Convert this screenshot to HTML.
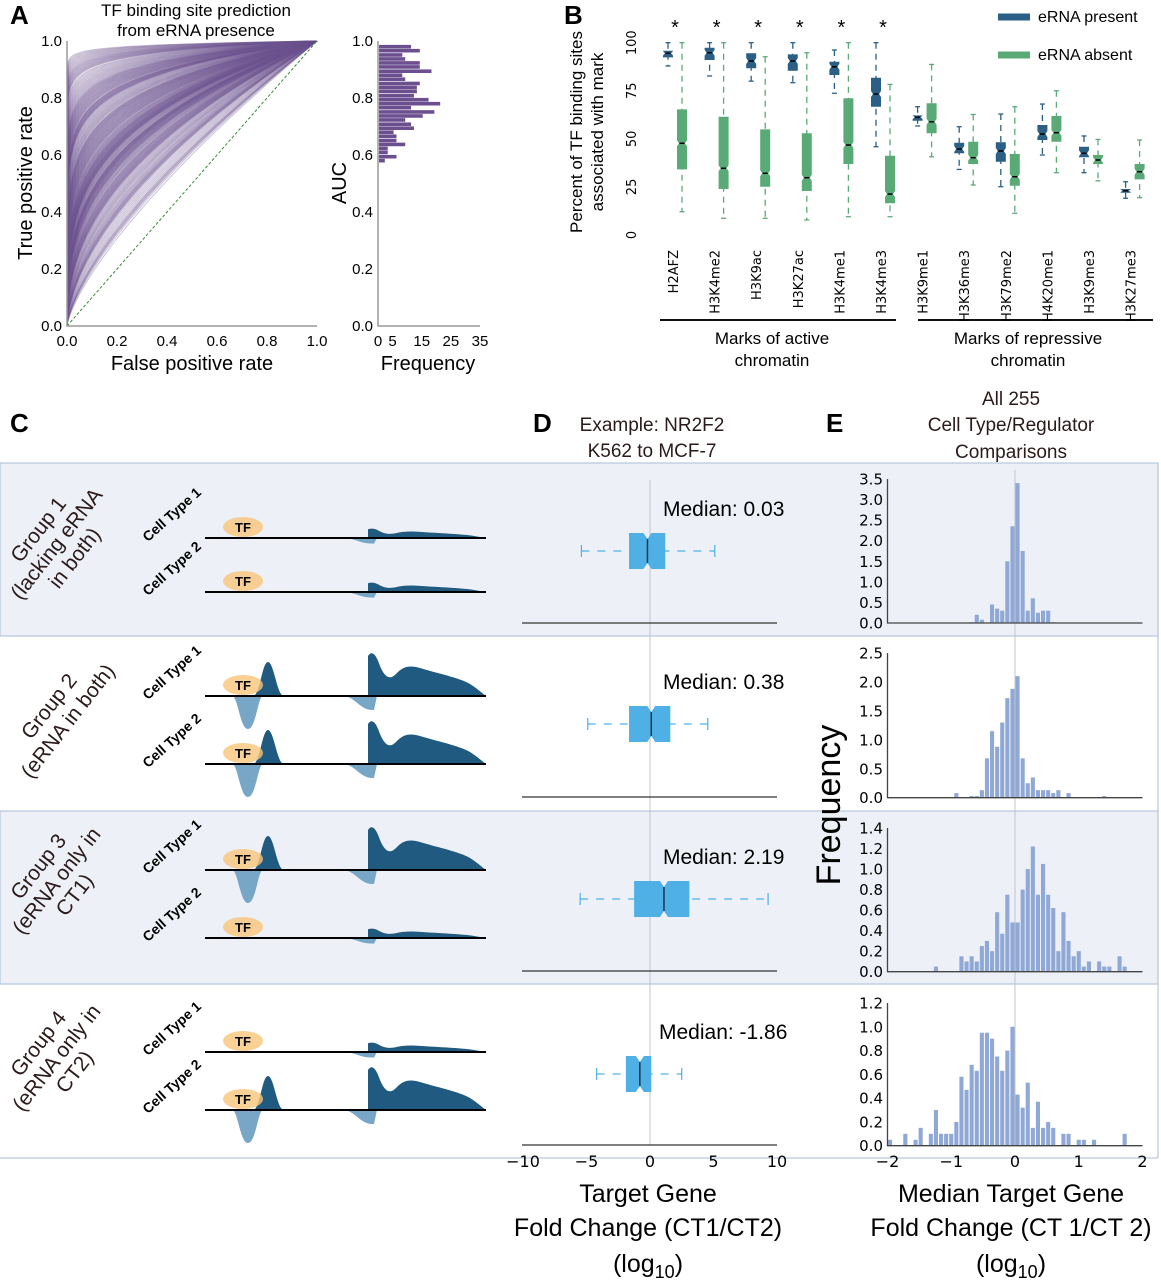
<!DOCTYPE html>
<html><head><meta charset="utf-8"><style>
body{margin:0;background:#fff}
svg{display:block;font-family:"Liberation Sans",sans-serif}
.dj{font-family:"DejaVu Sans",sans-serif}
</style></head><body>
<svg id="fig" width="1161" height="1280" viewBox="0 0 1161 1280" xmlns="http://www.w3.org/2000/svg">
<rect x="0" y="463" width="1158" height="173" fill="#edf1f7" stroke="#a9bcd6"/>
<rect x="0" y="811" width="1158" height="173" fill="#edf1f7" stroke="#a9bcd6"/>
<line x1="0" y1="636" x2="1158" y2="636" stroke="#a9bcd6"/>
<line x1="0" y1="984" x2="1158" y2="984" stroke="#a9bcd6"/>
<line x1="1158" y1="636" x2="1158" y2="811" stroke="#a9bcd6"/>
<line x1="1158" y1="984" x2="1158" y2="1158" stroke="#a9bcd6"/>
<line x1="0" y1="1158" x2="1158" y2="1158" stroke="#a9bcd6"/>

<text x="10" y="24" font-size="26" font-weight="bold">A</text>
<text x="564" y="24" font-size="26" font-weight="bold">B</text>
<text x="10" y="432" font-size="26" font-weight="bold">C</text>
<text x="533" y="432" font-size="26" font-weight="bold">D</text>
<text x="826" y="432" font-size="26" font-weight="bold">E</text>

<text x="196" y="16" font-size="17" text-anchor="middle">TF binding site prediction</text>
<text x="196" y="36" font-size="17" text-anchor="middle">from eRNA presence</text>
<text x="192" y="370" font-size="20" text-anchor="middle">False positive rate</text>
<text transform="translate(32,183) rotate(-90)" font-size="20" text-anchor="middle">True positive rate</text>
<text x="428" y="370" font-size="20" text-anchor="middle">Frequency</text>
<text transform="translate(346,183) rotate(-90)" font-size="20" text-anchor="middle">AUC</text>

<text transform="translate(582,132) rotate(-90)" font-size="17" text-anchor="middle">Percent of TF binding sites</text>
<text transform="translate(603,132) rotate(-90)" font-size="17" text-anchor="middle">associated with mark</text>
<line x1="998" y1="17" x2="1030" y2="17" stroke="#2b5f85" stroke-width="7"/>
<text x="1038" y="22" font-size="16">eRNA present</text>
<line x1="998" y1="55" x2="1030" y2="55" stroke="#5aaa78" stroke-width="7"/>
<text x="1038" y="60" font-size="16">eRNA absent</text>
<line x1="660" y1="320" x2="896" y2="320" stroke="#111" stroke-width="2"/>
<line x1="918" y1="320" x2="1153" y2="320" stroke="#111" stroke-width="2"/>
<text x="772" y="344" font-size="17" text-anchor="middle">Marks of active</text>
<text x="772" y="366" font-size="17" text-anchor="middle">chromatin</text>
<text x="1028" y="344" font-size="17" text-anchor="middle">Marks of repressive</text>
<text x="1028" y="366" font-size="17" text-anchor="middle">chromatin</text>

<text x="652" y="431" font-size="19" text-anchor="middle" fill="#2a1a1a">Example: NR2F2</text>
<text x="652" y="457" font-size="19" text-anchor="middle" fill="#2a1a1a">K562 to MCF-7</text>
<text x="1011" y="405" font-size="19" text-anchor="middle" fill="#2a1a1a">All 255</text>
<text x="1011" y="431" font-size="19" text-anchor="middle" fill="#2a1a1a">Cell Type/Regulator</text>
<text x="1011" y="458" font-size="19" text-anchor="middle" fill="#2a1a1a">Comparisons</text>
<text transform="translate(840,805) rotate(-90)" font-size="34" text-anchor="middle">Frequency</text>

<text x="648" y="1202" font-size="25" text-anchor="middle">Target Gene</text>
<text x="648" y="1236" font-size="25" text-anchor="middle">Fold Change (CT1/CT2)</text>
<text x="648" y="1272" font-size="25" text-anchor="middle">(log<tspan font-size="18" dy="6">10</tspan><tspan dy="-6">)</tspan></text>
<text x="1011" y="1202" font-size="25" text-anchor="middle">Median Target Gene</text>
<text x="1011" y="1236" font-size="25" text-anchor="middle">Fold Change (CT 1/CT 2)</text>
<text x="1011" y="1272" font-size="25" text-anchor="middle">(log<tspan font-size="18" dy="6">10</tspan><tspan dy="-6">)</tspan></text>

<g font-size="21" fill="#2a1a1a" text-anchor="middle">
<text transform="translate(62,548) rotate(-52)"><tspan x="0" y="-23">Group 1</tspan><tspan x="0" y="0">(lacking eRNA</tspan><tspan x="0" y="23">in both)</tspan></text>
<text transform="translate(64,718) rotate(-52)"><tspan x="0" y="-12">Group 2</tspan><tspan x="0" y="12">(eRNA in both)</tspan></text>
<text transform="translate(62,885) rotate(-52)"><tspan x="0" y="-23">Group 3</tspan><tspan x="0" y="0">(eRNA only in</tspan><tspan x="0" y="23">CT1)</tspan></text>
<text transform="translate(62,1062) rotate(-52)"><tspan x="0" y="-23">Group 4</tspan><tspan x="0" y="0">(eRNA only in</tspan><tspan x="0" y="23">CT2)</tspan></text>
</g>
<g id="layer"></g>
</svg>
<script>
// ===== Panel A data =====
const aucBinCenters = [0.98,0.966,0.951,0.937,0.923,0.909,0.894,0.880,0.866,0.851,0.837,0.823,0.808,0.794,0.780,0.766,0.751,0.737,0.723,0.708,0.694,0.680,0.666,0.651,0.637,0.623,0.609,0.594,0.580];
const aucCounts = [11,14,8,9,14,14,18,8,9,14,13,13,12,17,21,11,19,15,9,11,12,5,6,6,9,3,3,6,2];
const rocXTicks = [0,0.2,0.4,0.6,0.8,1.0];
const rocYTicks = [0,0.2,0.4,0.6,0.8,1.0];
const freqTicks = [0,5,15,25,35];

// ===== Panel B data =====
const marks = ["H2AFZ","H3K4me2","H3K9ac","H3K27ac","H3K4me1","H3K4me3","H3K9me1","H3K36me3","H3K79me2","H4K20me1","H3K9me3","H3K27me3"];
const presentLow  = [87.9,82.7,80,79.2,73.7,45.9,56.7,34.1,25.1,41.6,32.4,19.1];
const presentQ1   = [92.4,91,86.7,85.4,83.2,66.7,59.4,42.5,38.1,49.4,40.4,22];
const presentMed  = [94.5,94.8,90.5,90.5,87.5,73.3,61.2,44.7,43.7,52.5,42.5,23];
const presentQ3   = [95.8,97.4,94.5,93.9,90.1,81.8,62.2,48,48.2,57.2,45.9,23.9];
const presentHigh = [100,100,100,100,96.2,100,66.7,56.3,62.9,68.1,51.5,27.7];
const absentLow  = [12.1,8.7,8.7,7.8,9.5,9.5,40.7,26,11.3,32.4,28.2,19.4];
const absentQ1   = [34.1,23.9,25.1,22.9,36.9,16.5,52.9,36.9,25.6,48.5,36.9,28.9];
const absentMed  = [47.7,34.7,32.1,29.8,46.8,21.3,58.9,40.2,30.3,53.2,39,32.9];
const absentQ3   = [65.3,61.5,54.9,52.9,71.1,41.2,68.5,48.5,42.1,61.9,41.6,36.9];
const absentHigh = [100,100,92.7,94.8,100,78.3,88.7,62.7,66.7,75,49.7,49.4];
const significant = [1,1,1,1,1,1,0,0,0,0,0,0];
const bYTicks = [0,25,50,75,100];

// ===== Panel D data =====
const dLow  = [-5.4,-4.9,-5.5,-4.2];
const dQ1   = [-1.65,-1.65,-1.25,-1.9];
const dMed  = [-0.2,0.1,1.1,-0.8];
const dQ3   = [1.2,1.6,3.1,0.1];
const dHigh = [5.1,4.55,9.3,2.5];
const dMedianLabels = ["Median: 0.03","Median: 0.38","Median: 2.19","Median: -1.86"];
const dXTicks = [-10,-5,0,5,10];

// ===== Panel E data =====
const eBinWidth = 0.08;
const eBinStart = -2;
const hist1Bins = [16,17,18,20,21,22,23,24,25,26,27,28,29,30,31,32];
const hist1Vals = [0.02,0.2,0.08,0.45,0.35,0.3,1.5,2.35,3.4,1.75,0.3,0.6,0.25,0.3,0.3,0.02];
const hist2Bins = [13,16,17,18,19,20,21,22,23,24,25,26,27,28,29,30,31,32,33,35,42];
const hist2Vals = [0.08,0.03,0.03,0.13,0.68,1.15,0.88,1.3,1.72,1.88,2.1,0.68,0.25,0.35,0.13,0.13,0.13,0.08,0.13,0.08,0.03];
const hist3Bins = [9,14,15,16,17,18,19,20,21,22,23,24,25,26,27,28,29,30,31,32,33,34,35,36,37,38,39,41,42,43,45,46];
const hist3Vals = [0.05,0.15,0.1,0.15,0.1,0.25,0.3,0.2,0.58,0.37,0.75,0.48,0.48,0.8,1.0,1.22,0.75,1.05,0.75,0.62,0.2,0.58,0.3,0.15,0.2,0.05,0.1,0.1,0.05,0.05,0.15,0.05];
const hist4Bins = [0,3,5,6,8,9,10,11,12,13,14,15,16,17,18,19,20,21,22,23,24,25,26,27,28,29,30,31,32,34,35,37,38,40,46];
const hist4Vals = [0.05,0.1,0.05,0.15,0.1,0.3,0.1,0.1,0.1,0.2,0.58,0.47,0.68,0.63,0.95,0.95,0.9,0.75,0.63,0.8,1.0,0.43,0.32,0.53,0.15,0.37,0.15,0.2,0.15,0.1,0.1,0.05,0.05,0.05,0.1];
const hist1Ticks = [0,0.5,1,1.5,2,2.5,3,3.5];
const hist2Ticks = [0,0.5,1,1.5,2,2.5];
const hist3Ticks = [0,0.2,0.4,0.6,0.8,1.0,1.2,1.4];
const hist4Ticks = [0,0.2,0.4,0.6,0.8,1.0,1.2];
const eXTicks = [-2,-1,0,1,2];

const NS = "http://www.w3.org/2000/svg";
const layer = document.getElementById("layer");
function mk(tag, attrs, parent) {
  const e = document.createElementNS(NS, tag);
  for (const k in attrs) e.setAttribute(k, attrs[k]);
  (parent || layer).appendChild(e);
  return e;
}
function txt(str, attrs, name) {
  const t = mk("text", attrs);
  t.textContent = str;
  
  
  return t;
}
function fmt(v, d) { return v < 0 ? "\u2212" + Math.abs(v).toFixed(d) : v.toFixed(d); }

// ===== Panel A =====
const rx = v => 67 + v * 250;
const ry = v => 326 - v * 285;
const aucY = v => 326 - v * 285;
const freqX = v => 378 + v * (102 / 35);
{
  const g = mk("g", {});
  
  
  aucBinCenters.forEach((auc, i) => {
    for (let j = 0; j < aucCounts[i]; j++) {
      const a = auc - 0.007 + 0.014 * (j + 0.5) / aucCounts[i];
      const p = (1 - a) / a;
      let d = "";
      for (let s = 0; s <= 40; s++) {
        const x = Math.pow(s / 40, 1.6);
        const y = Math.pow(x, p);
        d += (s ? "L" : "M") + rx(x).toFixed(1) + "," + ry(y).toFixed(1);
      }
      const path = mk("path", { d: d, fill: "none", stroke: "#6e5490", "stroke-opacity": 0.35, "stroke-width": 1 }, g);
      
      
    }
  });
  const diag = mk("line", { x1: rx(0), y1: ry(0), x2: rx(1), y2: ry(1), stroke: "#3a8a3a", "stroke-dasharray": "3,2", "stroke-width": 1 });
  
  
  const ax = mk("path", { d: `M${rx(0)},${ry(1)}V${ry(0)}H${rx(1)}`, fill: "none", stroke: "#999", "stroke-width": 1.5 });
  
  
  rocXTicks.forEach(v => txt(v.toFixed(1), { x: rx(v), y: 346, "font-size": 15, "text-anchor": "middle" }, 'roc-x-tick'));
  rocYTicks.forEach(v => txt(v.toFixed(1), { x: 62, y: ry(v) + 5, "font-size": 15, "text-anchor": "end" }, 'roc-y-tick'));
  aucBinCenters.forEach((c, i) => {
    const r = mk("rect", { x: freqX(0) + 1, y: aucY(c) - 1.8, width: freqX(aucCounts[i]) - freqX(0), height: 3.6, fill: "#6b4f8f" });
    
    
  });
  const ax2 = mk("path", { d: `M${freqX(0)},${aucY(1)}V${aucY(0)}H${freqX(35)}`, fill: "none", stroke: "#999", "stroke-width": 1.5 });
  
  
  rocYTicks.forEach(v => txt(v.toFixed(1), { x: 373, y: aucY(v) + 5, "font-size": 15, "text-anchor": "end" }, 'auc-y-tick'));
  freqTicks.forEach(v => txt(String(v), { x: freqX(v), y: 346, "font-size": 15, "text-anchor": "middle" }, 'freq-tick'));
}

// ===== Panel B =====
const bx = i => 675 + i * 41.6;
const by = v => 235 - v * 1.923;
bYTicks.forEach(v => txt(String(v), { transform: `translate(636,${by(v)}) rotate(-90)`, "font-size": 13, "text-anchor": "middle", class: "dj" }, 'b-y-tick'));
function bbox(cx, lo, q1, md, q3, hi, col, name) {
  const g = mk("g", {});
  
  
  const w = 5, n = 2;
  const wl = mk("line", { x1: cx, y1: by(hi), x2: cx, y2: by(lo), stroke: col, "stroke-width": 1.3, "stroke-dasharray": "6,5" }, g);
  
  
  [hi, lo].forEach(v => {
    const c = mk("line", { x1: cx - 2.5, y1: by(v), x2: cx + 2.5, y2: by(v), stroke: col, "stroke-width": 1.3 }, g);
    
    
  });
  const nt = Math.min(3, (by(q1) - by(q3)) / 3);
  const p = mk("path", { d: `M${cx - w},${by(q3)}H${cx + w}V${by(md) - nt}L${cx + w - n},${by(md)}L${cx + w},${by(md) + nt}V${by(q1)}H${cx - w}V${by(md) + nt}L${cx - w + n},${by(md)}L${cx - w},${by(md) - nt}Z`, fill: col }, g);
  
  
  const m = mk("line", { x1: cx - 2.5, y1: by(md), x2: cx + 2.5, y2: by(md), stroke: "#000", "stroke-width": 1.5 }, g);
  
  
}
marks.forEach((mName, i) => {
  bbox(bx(i) - 7, presentLow[i], presentQ1[i], presentMed[i], presentQ3[i], presentHigh[i], "#2b5f85", 'box-present-' + mName);
  bbox(bx(i) + 7, absentLow[i], absentQ1[i], absentMed[i], absentQ3[i], absentHigh[i], "#5aaa78", 'box-absent-' + mName);
  txt(mName, { transform: `translate(${bx(i) + 3},250) rotate(-90)`, "font-size": 13, "text-anchor": "end", class: "dj" }, 'b-x-tick');
  if (significant[i]) txt("*", { x: bx(i), y: 34, "font-size": 20, "text-anchor": "middle" }, 'significance-star');
});

// ===== Panel C =====
const trackBaselines = [538, 592, 696, 764, 870, 938, 1052, 1110];
const trackHasERNA = [0, 0, 1, 1, 1, 0, 0, 1];
trackBaselines.forEach((y, i) => {
  const g = mk("g", {});
  
  
  const big = trackHasERNA[i];
  const s = big ? 1 : 0.22;
  if (big) {
    const l1 = mk("path", { d: `M232,${y}C238,${y} 240,${y + 33} 248,${y + 33}C256,${y + 33} 258,${y} 263,${y}Z`, fill: "#77a6c7" }, g);
    
    
    const d1 = mk("path", { d: `M253,${y}C260,${y} 262,${y - 34} 268,${y - 34}C274,${y - 34} 277,${y} 284,${y}Z`, fill: "#215a80" }, g);
    
    
  }
  const l2 = mk("path", { d: `M343,${y}C355,${y} 360,${y + 15 * (big ? 1 : 0.4)} 374,${y + 14 * (big ? 1 : 0.4)}L377,${y}Z`, fill: "#77a6c7" }, g);
  
  
  const d2 = mk("path", { d: `M368,${y}L368,${y - 40 * s}C372,${y - 46 * s} 376,${y - 42 * s} 380,${y - 30 * s}C385,${y - 18 * s} 390,${y - 16 * s} 396,${y - 22 * s}C403,${y - 30 * s} 410,${y - 31 * s} 420,${y - 28 * s}C440,${y - 22 * s} 460,${y - 18 * s} 470,${y - 12 * s}C478,${y - 7 * s} 483,${y - 2 * s} 486,${y}Z`, fill: "#215a80" }, g);
  
  
  const bl = mk("line", { x1: 205, y1: y, x2: 486, y2: y, stroke: "#000", "stroke-width": 2 }, g);
  
  
  const e = mk("ellipse", { cx: 243, cy: y - 11, rx: 20, ry: 10, fill: "#f7c57a", "fill-opacity": 0.8 }, g);
  
  
  txt("TF", { x: 243, y: y - 6, "font-size": 13, "font-weight": "bold", "text-anchor": "middle" }, 'tf-label');
  txt(i % 2 === 0 ? "Cell Type 1" : "Cell Type 2", { transform: `translate(175,${y - 20}) rotate(-42)`, "font-size": 14, "font-weight": "bold", "text-anchor": "middle" }, 'cell-type-label');
});

// ===== Panel D =====
const dx = v => 650 + v * 12.7;
const dRowY = [551, 724, 899, 1074];
const dBase = [623, 797, 971, 1145];
{
  const zl = mk("line", { x1: dx(0), y1: 480, x2: dx(0), y2: 1145, stroke: "#c0c4cc", "stroke-width": 1 });
  
  
}
dRowY.forEach((y, i) => {
  const g = mk("g", {});
  
  
  const col = "#4fb0e6";
  const w1 = mk("line", { x1: dx(dLow[i]), y1: y, x2: dx(dHigh[i]), y2: y, stroke: col, "stroke-width": 1.2, "stroke-dasharray": "8,8" }, g);
  
  
  [dLow[i], dHigh[i]].forEach(v => {
    const c = mk("line", { x1: dx(v), y1: y - 6, x2: dx(v), y2: y + 6, stroke: col, "stroke-width": 1.2 }, g);
    
    
  });
  const a = dx(dQ1[i]), b = dx(dQ3[i]), m = dx(dMed[i]), h = 18, n = Math.min(4, (b - a) / 4);
  const p = mk("path", { d: `M${a},${y - h}H${m - n}L${m},${y - h + 6}L${m + n},${y - h}H${b}V${y + h}H${m + n}L${m},${y + h - 6}L${m - n},${y + h}H${a}Z`, fill: col }, g);
  
  
  const ml = mk("line", { x1: m, y1: y - h + 6, x2: m, y2: y + h - 6, stroke: "#1a3550", "stroke-width": 1.5 }, g);
  
  
  txt(dMedianLabels[i], { x: i === 3 ? 659 : 663, y: y - 35, "font-size": 21 }, 'median-label');
  const ax = mk("line", { x1: 522, y1: dBase[i], x2: 777, y2: dBase[i], stroke: "#333", "stroke-width": 1.3 });
  
  
});
dXTicks.forEach(v => txt(fmt(v, 0), { x: dx(v), y: 1167, "font-size": 16, "text-anchor": "middle", class: "dj" }, 'd-x-tick'));

// ===== Panel E =====
const ex = v => 1015 + v * 63.75;
{
  const zl = mk("line", { x1: ex(0), y1: 470, x2: ex(0), y2: 1145, stroke: "#c0c4cc", "stroke-width": 1 });
  
  
}
const hists = [
  { bins: hist1Bins, vals: hist1Vals, ticks: hist1Ticks, y0: 623, ytop: 479, max: 3.5 },
  { bins: hist2Bins, vals: hist2Vals, ticks: hist2Ticks, y0: 797.7, ytop: 653, max: 2.5 },
  { bins: hist3Bins, vals: hist3Vals, ticks: hist3Ticks, y0: 971.7, ytop: 828, max: 1.4 },
  { bins: hist4Bins, vals: hist4Vals, ticks: hist4Ticks, y0: 1145.7, ytop: 1003, max: 1.2 }
];
hists.forEach((H, hi) => {
  const ey = v => H.y0 - v / H.max * (H.y0 - H.ytop);
  const g = mk("g", {});
  
  
  H.bins.forEach((k, j) => {
    const x0 = ex(eBinStart + k * eBinWidth);
    const r = mk("rect", { x: x0 + 0.5, y: ey(H.vals[j]), width: ex(eBinWidth) - ex(0) - 1, height: H.y0 - ey(H.vals[j]), fill: "#8fa8d6" }, g);
    
    
  });
  const ax = mk("path", { d: `M${ex(-2)},${ey(H.max)}V${H.y0}H${ex(2)}`, fill: "none", stroke: "#444", "stroke-width": 1.3 }, g);
  
  
  H.ticks.forEach(v => txt(v.toFixed(1), { x: 883, y: ey(v) + 5.5, "font-size": 15, "text-anchor": "end", class: "dj" }, 'e-y-tick'));
});
eXTicks.forEach(v => txt(fmt(v, 0), { x: ex(v), y: 1167, "font-size": 16, "text-anchor": "middle", class: "dj" }, 'e-x-tick'));
</script>
</body></html>
